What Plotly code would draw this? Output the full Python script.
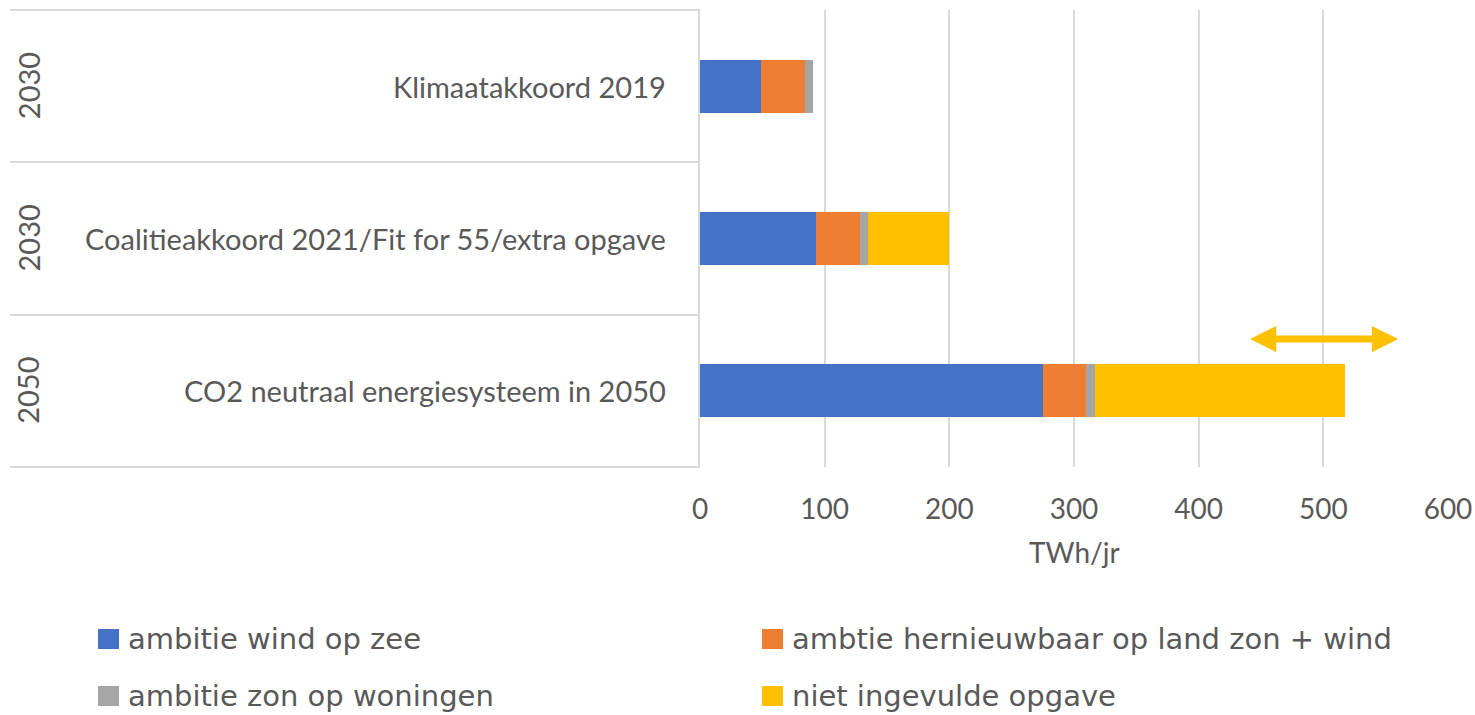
import plotly.graph_objects as go

# ---- data ----
scenarios = ["Klimaatakkoord 2019",
             "Coalitieakkoord 2021/Fit for 55/extra opgave",
             "CO2 neutraal energiesysteem in 2050"]
years = ["2030", "2030", "2050"]
series_names = ["ambitie wind op zee",
                "ambtie hernieuwbaar op land zon + wind",
                "ambitie zon op woningen",
                "niet ingevulde opgave"]
wind_op_zee = [49, 93, 275]
hernieuwbaar_land = [35, 35, 35]
zon_op_woningen = [7, 7, 7]
niet_ingevuld = [0, 65, 200]
x_ticks = [0, 100, 200, 300, 400, 500, 600]
arrow_range = [440, 560]   # bandbreedte 2050

colors = ["#4472C4", "#ED7D31", "#A5A5A5", "#FFC000"]
values = [wind_op_zee, hernieuwbaar_land, zon_op_woningen, niet_ingevuld]

TXT = "#595959"
GRID = "#D9D9D9"
FONT = "Lato"
LEGFONT = "DejaVu Sans"

W, H = 1475, 715
L, R, T, B = 700, 27, 10, 248
PW, PH = W - L - R, H - T - B


def px_x(px):
    return (px - L) / PW


def px_y(py):
    return (H - B - py) / PH


fig = go.Figure()
for name, vals, col in zip(series_names, values, colors):
    fig.add_trace(go.Bar(
        y=scenarios, x=vals, name=name, orientation="h",
        marker=dict(color=col, line=dict(width=0)),
        width=0.35, showlegend=False,
        hovertemplate="%{y}<br>" + name + ": %{x}<extra></extra>",
    ))

fig.update_layout(
    width=W, height=H, barmode="stack",
    margin=dict(l=L, r=R, t=T, b=B, autoexpand=False),
    paper_bgcolor="white", plot_bgcolor="white",
    font=dict(family=FONT, size=28, color=TXT),
    xaxis=dict(range=[0, 600], tickvals=x_ticks, showgrid=True,
               gridcolor=GRID, gridwidth=2, zeroline=False, showline=False,
               ticks="", ticklabelstandoff=23, automargin=False,
               tickfont=dict(family=FONT, size=28, color=TXT)),
    yaxis=dict(type="category", range=[2.5, -0.5], showticklabels=False,
               showgrid=False, zeroline=False, showline=True, automargin=False,
               linecolor=GRID, linewidth=2, ticks=""),
)

# axis title
fig.add_annotation(text="TWh/jr", xref="paper", yref="paper",
                   x=0.5, y=px_y(552), xanchor="center", yanchor="middle",
                   showarrow=False, font=dict(size=28, color=TXT))

# category labels (inner and outer level)
for i, (sc, yr) in enumerate(zip(scenarios, years)):
    fig.add_annotation(text=sc, xref="paper", yref="y", x=px_x(668), y=sc,
                       xanchor="right", yanchor="middle", showarrow=False,
                       font=dict(size=29, color=TXT))
    fig.add_annotation(text=yr, xref="paper", yref="y", x=px_x(28), y=sc,
                       xanchor="center", yanchor="middle", textangle=-90,
                       showarrow=False, font=dict(size=29, color=TXT))

# separators of the category axis
for py in [10, 162, 315, 467]:
    fig.add_shape(type="line", xref="paper", yref="paper",
                  x0=px_x(10), x1=0, y0=px_y(py), y1=px_y(py),
                  line=dict(color=GRID, width=2))

# double arrow for the 2050 range
fig.add_annotation(x=arrow_range[1], y=1.66, ax=arrow_range[0], ay=1.66,
                   xref="x", yref="y", axref="x", ayref="y", text="",
                   showarrow=True, arrowhead=2, startarrowhead=2,
                   arrowside="end+start", arrowwidth=7, arrowsize=0.75,
                   startarrowsize=0.75, arrowcolor="#FFC000")

# manual legend
legend_pos = [(98, 639), (762, 639), (98, 696), (762, 696)]
for (lx, ly), name, col in zip(legend_pos, series_names, colors):
    fig.add_shape(type="rect", xref="paper", yref="paper",
                  x0=px_x(lx), x1=px_x(lx + 21), y0=px_y(ly - 10), y1=px_y(ly + 10),
                  fillcolor=col, line=dict(width=0))
    fig.add_annotation(text=name, xref="paper", yref="paper",
                       x=px_x(lx + 29), y=px_y(ly), xanchor="left", yanchor="middle",
                       showarrow=False, borderpad=0,
                       font=dict(family=LEGFONT, size=29, color=TXT))

fig.write_html("out.html", config={"displayModeBar": False},
               post_script="document.body.style.margin='0';")
